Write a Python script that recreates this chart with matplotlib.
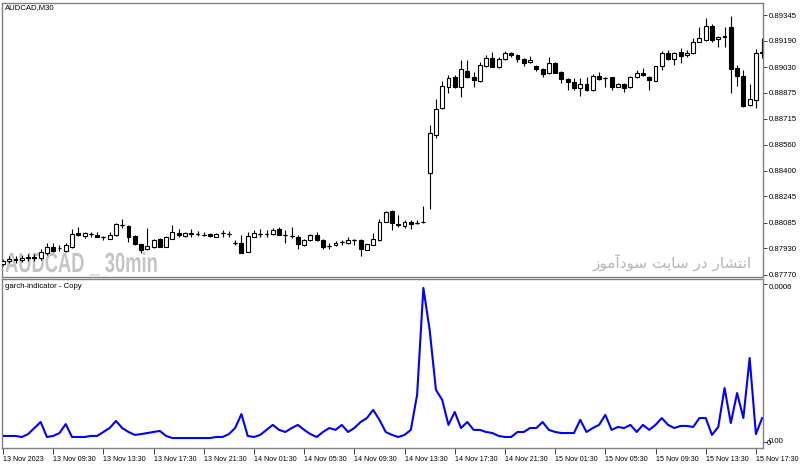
import numpy as np
import matplotlib.pyplot as plt
import matplotlib.transforms as mtransforms
from matplotlib import patheffects

# AUDCAD M30 candles, 13 Nov 2023 05:30 -> 15 Nov 18:00
opens = [0.87836, 0.87854, 0.87867, 0.87860, 0.87873, 0.87879, 0.87873, 0.87903, 0.87939, 0.87933,
         0.87917, 0.87941, 0.88022, 0.88006, 0.88018, 0.88014, 0.88002, 0.87988, 0.88012, 0.88073,
         0.88066, 0.88006, 0.87956, 0.87925, 0.87937, 0.87986, 0.87941, 0.87988, 0.88022, 0.88006,
         0.88022, 0.88016, 0.88012, 0.88016, 0.88002, 0.88022, 0.88018, 0.87965, 0.87962, 0.87909,
         0.87998, 0.88018, 0.88016, 0.88016, 0.88046, 0.88010, 0.88006, 0.88002, 0.87951, 0.87982,
         0.88012, 0.87982, 0.87945, 0.87951, 0.87968, 0.87965, 0.87982, 0.87982, 0.87921, 0.87951,
         0.87982, 0.88093, 0.88157, 0.88076, 0.88066, 0.88093, 0.88086, 0.88089, 0.88386, 0.88618,
         0.88780, 0.88907, 0.88968, 0.88907, 0.89008, 0.88968, 0.88947, 0.89036, 0.89083, 0.89028,
         0.89077, 0.89113, 0.89103, 0.89077, 0.89060, 0.89036, 0.89016, 0.88992, 0.89056, 0.89002,
         0.88959, 0.88941, 0.88901, 0.88927, 0.88891, 0.88975, 0.88965, 0.88968, 0.88911, 0.88927,
         0.88907, 0.88968, 0.88995, 0.88971, 0.88947, 0.89036, 0.89117, 0.89077, 0.89123, 0.89103,
         0.89113, 0.89183, 0.89194, 0.89278, 0.89198, 0.89218, 0.89274, 0.89022, 0.88975, 0.88800,
         0.88830, 0.89115]
highs = [0.87867, 0.87885, 0.87885, 0.87891, 0.87897, 0.87897, 0.87927, 0.87963, 0.87963, 0.87948,
         0.87963, 0.88048, 0.88062, 0.88032, 0.88032, 0.88028, 0.88003, 0.88032, 0.88085, 0.88107,
         0.88073, 0.88012, 0.87960, 0.88053, 0.87988, 0.87991, 0.88003, 0.88073, 0.88048, 0.88030,
         0.88046, 0.88033, 0.88027, 0.88021, 0.88021, 0.88042, 0.88038, 0.87982, 0.88012, 0.88032,
         0.88042, 0.88046, 0.88042, 0.88051, 0.88062, 0.88042, 0.88062, 0.88009, 0.87988, 0.88018,
         0.88032, 0.87988, 0.87962, 0.87973, 0.87982, 0.87998, 0.87985, 0.87988, 0.87960, 0.88022,
         0.88107, 0.88160, 0.88163, 0.88133, 0.88100, 0.88100, 0.88100, 0.88188, 0.88679, 0.88834,
         0.88947, 0.88982, 0.88982, 0.89072, 0.89072, 0.89002, 0.89062, 0.89103, 0.89123, 0.89092,
         0.89129, 0.89123, 0.89109, 0.89082, 0.89097, 0.89042, 0.89021, 0.89089, 0.89060, 0.89006,
         0.88963, 0.88962, 0.88962, 0.88968, 0.88988, 0.89002, 0.88968, 0.88971, 0.88931, 0.88931,
         0.88975, 0.89012, 0.89022, 0.88975, 0.89039, 0.89129, 0.89133, 0.89121, 0.89143, 0.89133,
         0.89204, 0.89274, 0.89325, 0.89291, 0.89218, 0.89274, 0.89339, 0.89042, 0.89012, 0.88927,
         0.89137, 0.89204]
lows = [0.87824, 0.87842, 0.87842, 0.87848, 0.87854, 0.87854, 0.87860, 0.87891, 0.87909, 0.87912,
        0.87909, 0.87933, 0.88003, 0.87992, 0.88002, 0.87998, 0.87982, 0.87985, 0.88006, 0.88053,
        0.87971, 0.87951, 0.87901, 0.87921, 0.87933, 0.87936, 0.87936, 0.87985, 0.87998, 0.88000,
        0.88002, 0.88003, 0.88003, 0.88000, 0.87998, 0.88002, 0.87998, 0.87951, 0.87900, 0.87906,
        0.87997, 0.88002, 0.88002, 0.88012, 0.88009, 0.87965, 0.87992, 0.87925, 0.87945, 0.87976,
        0.87976, 0.87925, 0.87925, 0.87945, 0.87951, 0.87960, 0.87951, 0.87885, 0.87918, 0.87948,
        0.87976, 0.88089, 0.88042, 0.88060, 0.88057, 0.88046, 0.88076, 0.88086, 0.88170, 0.88598,
        0.88776, 0.88871, 0.88903, 0.88850, 0.88963, 0.88907, 0.88942, 0.89030, 0.89027, 0.89024,
        0.89072, 0.89092, 0.89062, 0.89036, 0.89057, 0.89008, 0.88968, 0.88988, 0.88991, 0.88935,
        0.88891, 0.88891, 0.88854, 0.88886, 0.88886, 0.88951, 0.88907, 0.88891, 0.88907, 0.88880,
        0.88903, 0.88963, 0.88975, 0.88891, 0.88945, 0.89012, 0.89072, 0.89042, 0.89052, 0.89092,
        0.89109, 0.89180, 0.89188, 0.89183, 0.89153, 0.89153, 0.88871, 0.88915, 0.88786, 0.88794,
        0.88780, 0.89083]
closes = [0.87854, 0.87867, 0.87860, 0.87873, 0.87879, 0.87873, 0.87909, 0.87939, 0.87917, 0.87930,
          0.87951, 0.88016, 0.88010, 0.88022, 0.88019, 0.88002, 0.88002, 0.88012, 0.88079, 0.88074,
          0.87998, 0.87956, 0.87921, 0.87947, 0.87982, 0.87941, 0.87998, 0.88028, 0.88010, 0.88022,
          0.88020, 0.88015, 0.88012, 0.88004, 0.88016, 0.88021, 0.88018, 0.87965, 0.87901, 0.88006,
          0.88022, 0.88018, 0.88016, 0.88042, 0.88012, 0.88009, 0.88006, 0.87956, 0.87982, 0.88012,
          0.87982, 0.87941, 0.87945, 0.87965, 0.87968, 0.87982, 0.87982, 0.87925, 0.87956, 0.87986,
          0.88093, 0.88153, 0.88085, 0.88070, 0.88093, 0.88079, 0.88086, 0.88093, 0.88628, 0.88774,
          0.88915, 0.88962, 0.88907, 0.89016, 0.88968, 0.88951, 0.89042, 0.89083, 0.89032, 0.89077,
          0.89117, 0.89103, 0.89077, 0.89056, 0.89072, 0.89016, 0.88988, 0.89056, 0.88995, 0.88955,
          0.88939, 0.88901, 0.88927, 0.88891, 0.88975, 0.88955, 0.88965, 0.88911, 0.88927, 0.88901,
          0.88968, 0.88995, 0.88982, 0.88951, 0.89036, 0.89117, 0.89077, 0.89117, 0.89097, 0.89117,
          0.89183, 0.89204, 0.89278, 0.89194, 0.89214, 0.89210, 0.89016, 0.88975, 0.88794, 0.88834,
          0.89117, 0.89121]

# garch-indicator - Copy (one value per bar)
garch = [2.3e-5, 2.3e-5, 2.3e-5, 1.9e-5, 3.0e-5, 5.3e-5, 7.6e-5, 1.9e-5, 2.3e-5, 3.4e-5,
         6.8e-5, 1.9e-5, 1.9e-5, 1.9e-5, 2.3e-5, 2.3e-5, 3.8e-5, 5.3e-5, 8.0e-5, 5.3e-5,
         3.8e-5, 2.7e-5, 3.0e-5, 3.4e-5, 3.8e-5, 4.2e-5, 2.3e-5, 1.5e-5, 1.5e-5, 1.5e-5,
         1.5e-5, 1.5e-5, 1.5e-5, 1.5e-5, 1.9e-5, 1.9e-5, 3.0e-5, 5.3e-5, 1.06e-4, 2.3e-5,
         1.9e-5, 2.7e-5, 4.6e-5, 6.5e-5, 4.6e-5, 3.8e-5, 5.3e-5, 6.5e-5, 4.6e-5, 3.0e-5,
         1.9e-5, 3.8e-5, 5.3e-5, 4.6e-5, 6.5e-5, 3.8e-5, 5.3e-5, 7.6e-5, 9.1e-5, 1.22e-4,
         8.4e-5, 3.8e-5, 2.7e-5, 1.9e-5, 2.7e-5, 4.6e-5, 1.79e-4, 5.85e-4, 4.26e-4, 1.98e-4,
         1.60e-4, 6.5e-5, 1.14e-4, 5.3e-5, 7.6e-5, 4.6e-5, 4.6e-5, 3.8e-5, 3.4e-5, 2.3e-5,
         1.9e-5, 1.9e-5, 3.8e-5, 3.8e-5, 5.3e-5, 5.3e-5, 7.6e-5, 4.6e-5, 3.8e-5, 3.4e-5,
         3.4e-5, 3.4e-5, 8.4e-5, 3.8e-5, 5.3e-5, 6.5e-5, 1.03e-4, 4.6e-5, 5.7e-5, 5.3e-5,
         6.5e-5, 3.8e-5, 6.5e-5, 4.6e-5, 6.5e-5, 9.1e-5, 6.5e-5, 5.3e-5, 6.1e-5, 6.1e-5,
         5.7e-5, 9.1e-5, 9.1e-5, 2.7e-5, 5.7e-5, 2.05e-4, 7.2e-5, 1.86e-4, 9.1e-5, 3.19e-4,
         3.0e-5, 9.1e-5]

time_labels = ['13 Nov 2023', '13 Nov 09:30', '13 Nov 13:30', '13 Nov 17:30', '13 Nov 21:30',
               '14 Nov 01:30', '14 Nov 05:30', '14 Nov 09:30', '14 Nov 13:30', '14 Nov 17:30',
               '14 Nov 21:30', '15 Nov 01:30', '15 Nov 05:30', '15 Nov 09:30', '15 Nov 13:30',
               '15 Nov 17:30']
price_ticks = [0.89345, 0.89190, 0.89030, 0.88875, 0.88715, 0.88560, 0.88400, 0.88245,
               0.88085, 0.87930, 0.87770]

FONT = 'Liberation Sans'
FS = 5.6
FRAME = '#808080'


class Condense(patheffects.AbstractPathEffect):
    """squeeze text horizontally around a fixed x (display px)"""
    def __init__(self, sx, x0):
        super().__init__()
        self.sx = sx
        self.x0 = x0

    def draw_path(self, renderer, gc, tpath, affine, rgbFace=None):
        squeeze = mtransforms.Affine2D().translate(-self.x0, 0).scale(self.sx, 1).translate(self.x0, 0)
        renderer.draw_path(gc, tpath, affine + squeeze, rgbFace)


fig = plt.figure(figsize=(8, 4.68), dpi=100)
ax = fig.add_axes([2 / 800, 1 - 276.5 / 468, 760.5 / 800, 273.5 / 468])
ax2 = fig.add_axes([2 / 800, 1 - 448 / 468, 760.5 / 800, 169 / 468])

o, h, l, c = (np.array(a) for a in (opens, highs, lows, closes))
x = np.arange(len(o))
up = c >= o

# candles
ax.vlines(x, l, h, color='black', lw=0.8, zorder=2)
ax.bar(x, np.abs(c - o), bottom=np.minimum(o, c), width=0.62,
       color=np.where(up, 'white', 'black'), edgecolor='black', linewidth=0.8, zorder=3)
doji = np.abs(c - o) < 1.5e-5
ax.hlines(c[doji], x[doji] - 0.31, x[doji] + 0.31, color='black', lw=0.9, zorder=4)

ax.set_xlim(-0.16, 121.05)
ax.set_ylim(0.87760, 0.89418)

# indicator
ax2.plot(x, garch, color='#0000ff', lw=1.5)
ax2.set_xlim(-0.16, 121.05)
ax2.set_ylim(-2.28e-5, 6.19e-4)

for a in (ax, ax2):
    for s in a.spines.values():
        s.set_color(FRAME)
        s.set_linewidth(1.0)
    a.yaxis.tick_right()
    a.tick_params(axis='y', direction='out', length=3, width=0.7, color='#404040',
                  labelsize=FS, pad=1.5, labelcolor='black')

ax.set_yticks(price_ticks)
ax.set_yticklabels(['%.5f' % p for p in price_ticks], fontfamily=FONT)
ax.set_xticks([])

ax2.set_yticks([6e-4, 0])
ax2.set_yticklabels(['0.0006', '0.00'], fontfamily=FONT)
ax2.get_yticklabels()[0].set_va('top')
ax2.get_yticklabels()[1].set_va('center')
zero_tr = mtransforms.offset_copy(ax2.get_yaxis_transform(), fig=fig, x=4.5, y=-2, units='dots')
ax2.text(1.0, 0, '0', transform=zero_tr, fontsize=FS, fontfamily=FONT,
         ha='left', va='center', clip_on=False)
ax2.set_xticks(np.arange(0, 121, 8))
ax2.set_xticklabels(time_labels, fontfamily=FONT, ha='left')
ax2.tick_params(axis='x', direction='out', length=4, width=0.7, color='#404040',
                labelsize=5.1, pad=1.5)

ax.text(5 / 800, 1 - 7.5 / 468, 'AUDCAD,M30', transform=fig.transFigure, fontsize=FS,
        fontfamily=FONT, va='center', ha='left')
ax2.text(5 / 800, 1 - 286 / 468, 'garch-indicator - Copy', transform=fig.transFigure,
         fontsize=FS, fontfamily=FONT, va='center', ha='left')

# watermarks
ax.text(5 / 800, 1 - 272 / 468, 'AUDCAD _ 30min', transform=fig.transFigure,
        fontsize=20, fontweight='bold', fontfamily=FONT, color='#c4c4c4',
        va='baseline', ha='left', zorder=1, path_effects=[Condense(0.66, 5)])
fa = '\ufeaf\ufeee\ufee3\ufe81\ufea9\ufeee\ufeb3 \ufe96\ufef3\ufe8e\ufeb3 \ufead\ufea9 \ufead\ufe8e\ufeb8\ufe98\ufee7\ufe8d'
ax.text(752 / 800, 1 - 268 / 468, fa, transform=fig.transFigure, fontsize=11,
        fontfamily='DejaVu Sans', color='#b4b4b4', va='baseline', ha='right', zorder=1)

fig.savefig('out.png', dpi=100, facecolor='white')
